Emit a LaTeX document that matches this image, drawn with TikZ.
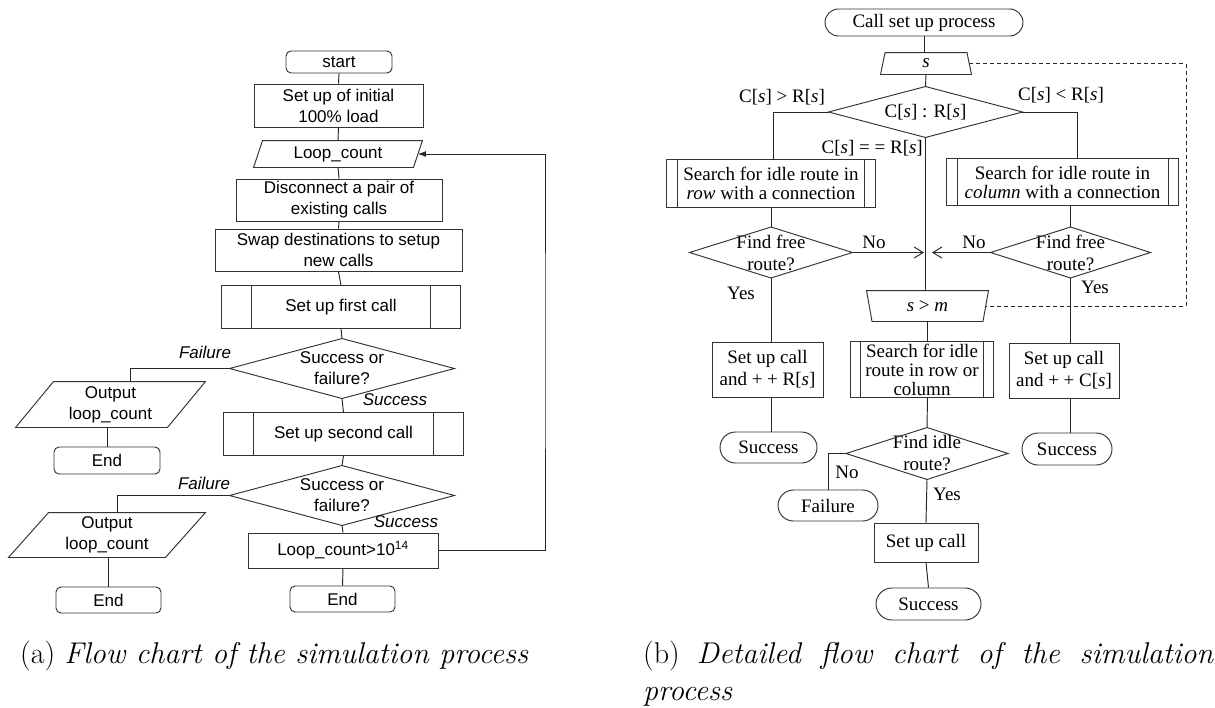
\documentclass[tikz,border=0pt]{standalone}
\usepackage{fontspec}
\newfontfamily\sansf{Liberation Sans}
\newfontfamily\serf{Liberation Serif}
\usetikzlibrary{arrows.meta}

% outlines drawn from the anchors of an undrawn rectangular node
\newcommand\pgramshape[2]{\draw[shp] ([xshift=#2]#1.north west) -- (#1.north east) -- ([xshift=-#2]#1.south east) -- (#1.south west) -- cycle;}
\newcommand\trapwide[2]{\draw[shp] ([xshift=#2]#1.north west) -- ([xshift=-#2]#1.north east) -- (#1.south east) -- (#1.south west) -- cycle;}
\newcommand\trapnarrow[2]{\draw[shp] (#1.north west) -- (#1.north east) -- ([xshift=-#2]#1.south east) -- ([xshift=#2]#1.south west) -- cycle;}
\newcommand\diam[1]{\draw[shp] (#1.north) -- (#1.east) -- (#1.south) -- (#1.west) -- cycle;}
\newcommand\subproc[2]{\draw[shp] (#1.north west) rectangle (#1.south east);
  \draw[shp] ([xshift=#2]#1.north west) -- ([xshift=#2]#1.south west)
             ([xshift=-#2]#1.north east) -- ([xshift=-#2]#1.south east);}

\tikzset{
  shp/.style={line width=0.95pt, draw=black!80},
  ln/.style={line width=0.95pt, draw=black!85},
  sbox/.style={inner sep=0pt, align=center, line width=0.95pt, draw=none,
    font=\sansf\fontsize{17}{21}\selectfont},
  sdraw/.style={sbox, draw=black!80},
  slab/.style={inner sep=0pt, font=\sansf\itshape\fontsize{17}{21}\selectfont},
  rbox/.style={inner sep=0pt, align=center, line width=0.95pt, draw=none,
    font=\serf\fontsize{19}{22}\selectfont},
  rdraw/.style={rbox, draw=black!80},
  rtight/.style={rbox, font=\serf\fontsize{19}{19}\selectfont},
  rlab/.style={inner sep=0pt, font=\serf\fontsize{19}{22}\selectfont},
  barb/.style={-{Straight Barb[length=9pt,width=11pt]}},
  captxt/.style={inner sep=0pt, anchor=base west, font=\fontsize{30}{37}\selectfont}
}

\begin{document}
\begin{tikzpicture}[x=1pt,y=-1pt]
\fill[white] (0,0) rectangle (1215,707);
\useasboundingbox (0,0) rectangle (1215,707);

% ---------------- overall simulation loop ----------------
\node[sdraw, rounded corners=5pt, minimum width=106pt, minimum height=22pt] (start) at (339,62) {start};
\node[sdraw, minimum width=169pt, minimum height=43pt] (init) at (338.5,105.5) {Set up of initial\\100\% load};
\node[sbox, minimum width=168pt, minimum height=26pt] (lc) at (338,154) {Loop\_count};
\pgramshape{lc}{9pt}
\node[sdraw, minimum width=206pt, minimum height=42pt] (disc) at (339,200) {Disconnect a pair of\\existing calls};
\node[sdraw, minimum width=247pt, minimum height=42pt] (swap) at (338.5,250) {Swap destinations to setup\\new calls};
\node[sbox, minimum width=238pt, minimum height=42pt] (first) at (341,307) {Set up first call};
\subproc{first}{30pt}
\node[sbox, minimum width=224pt, minimum height=59pt] (d1) at (342,368.5) {Success or\\failure?};
\diam{d1}
\node[sbox, minimum width=189pt, minimum height=45pt] (out1) at (110.5,404.5) {Output\\loop\_count};
\pgramshape{out1}{38pt}
\node[sdraw, rounded corners=5pt, minimum width=106pt, minimum height=27pt] (end1) at (107,460.5) {End};
\node[sbox, minimum width=239pt, minimum height=42pt] (second) at (343.5,434) {Set up second call};
\subproc{second}{30pt}
\node[sbox, minimum width=224pt, minimum height=59pt] (d2) at (342,495.5) {Success or\\failure?};
\diam{d2}
\node[sbox, minimum width=196pt, minimum height=44pt] (out2) at (107,535) {Output\\loop\_count};
\pgramshape{out2}{40pt}
\node[sdraw, rounded corners=5pt, minimum width=105pt, minimum height=26pt] (end2) at (108.5,600) {End};
\node[sdraw, minimum width=190pt, minimum height=35pt] (loop) at (343,550.5) {Loop\_count>10\textsuperscript{14}};
\node[sdraw, rounded corners=5pt, minimum width=105pt, minimum height=26pt] (end3) at (342.5,599) {End};
\coordinate (back) at (545,350);

\draw[ln] (start.south) -- (init.north);
\draw[ln] (init.south) -- (lc.north);
\draw[ln] (lc.south) -- (disc.north);
\draw[ln] (disc.south) -- (swap.north);
\draw[ln] (swap.south) -- (first.north);
\draw[ln] (first.south) -- (d1.north);
\draw[ln] (d1.south) -- (second.north);
\draw[ln] (second.south) -- (d2.north);
\draw[ln] (d2.south) -- (loop.north);
\draw[ln] (loop.south) -- (end3.north);
\draw[ln] (d1.west) -| ([xshift=19.5pt]out1.north);
\draw[ln] (end1.north |- out1.south) -- (end1.north);
\draw[ln] (d2.west) -| ([xshift=10pt]out2.north);
\draw[ln] (end2.north |- out2.south) -- (end2.north);
\draw[ln, -{Latex[length=8pt,width=6pt]}] (loop.east) -| (back) |- ([xshift=-4.5pt]lc.east);

\node[slab] at (205,352) {Failure};
\node[slab] at (395,400) {Success};
\node[slab] at (204,483) {Failure};
\node[slab] at (406,522) {Success};

% ---------------- detailed call set-up ----------------
\node[rdraw, rounded corners=13.5pt, minimum width=198pt, minimum height=27pt] (call) at (924,22.5) {Call set up process};
\node[rbox, minimum width=90pt, minimum height=21pt] (s) at (926,63.5) {\textit{s}};
\trapwide{s}{4.5pt}
\node[rbox, minimum width=193pt, minimum height=50pt] (dc) at (925.5,112) {C[\textit{s}] : R[\textit{s}]};
\diam{dc}
\node[rtight, minimum width=208pt, minimum height=47pt] (rowb) at (771,183.5) {Search for idle route in\\\textit{row} with a connection};
\subproc{rowb}{11pt}
\node[rtight, minimum width=231pt, minimum height=46pt] (colb) at (1062.5,182) {Search for idle route in\\\textit{column} with a connection};
\subproc{colb}{10.5pt}
\node[rbox, minimum width=162pt, minimum height=50pt] (dl) at (771,252.5) {Find free\\route?};
\diam{dl}
\node[rbox, minimum width=159pt, minimum height=50pt] (dr) at (1070.5,252.5) {Find free\\route?};
\diam{dr}
\node[rbox, minimum width=121pt, minimum height=30pt] (smgt) at (927.5,306) {\textit{s} > \textit{m}};
\trapnarrow{smgt}{5.5pt}
\node[rdraw, minimum width=111pt, minimum height=55pt] (setr) at (767.5,369.5) {Set up call\\and + + R[\textit{s}]};
\node[rtight, minimum width=142pt, minimum height=55pt] (srch) at (922,369.5) {Search for idle\\route in row or\\column};
\subproc{srch}{10pt}
\node[rdraw, minimum width=110pt, minimum height=55pt] (setc) at (1064,370.5) {Set up call\\and + + C[\textit{s}]};
\node[rdraw, rounded corners=15.5pt, minimum width=97pt, minimum height=31pt] (sucl) at (768.5,447.5) {Success};
\node[rdraw, rounded corners=16pt, minimum width=90pt, minimum height=32pt] (sucr) at (1067,449) {Success};
\node[rbox, minimum width=161pt, minimum height=51pt] (di) at (927,453.5) {Find idle\\route?};
\diam{di}
\node[rdraw, rounded corners=15.5pt, minimum width=100pt, minimum height=31pt] (fail) at (828,505.5) {Failure};
\node[rdraw, minimum width=104pt, minimum height=39pt] (setup) at (926,542.5) {Set up call};
\node[rdraw, rounded corners=16pt, minimum width=105pt, minimum height=32pt] (sucb) at (928.5,604) {Success};

\coordinate (jl) at (924,252.5);
\coordinate (jr) at (932,252.5);
\coordinate (dashx) at (1186,200);

\draw[ln] (call.south) -- (call.south |- s.north);
\draw[ln] (s.south) -- (dc.north);
\draw[ln] (dc.west) -| ([xshift=2pt]rowb.north);
\draw[ln] (dc.east) -| ([xshift=14.5pt]colb.north);
\draw[ln] (dc.south) -- (dc.south |- smgt.north);
\draw[ln] (rowb.south) -- (dl.north);
\draw[ln] (dr.north |- colb.south) -- (dr.north);
\draw[ln, barb] (dl.east) -- (jl);
\draw[ln, barb] (dr.west) -- (jr);
\draw[ln] (dl.south) -- (dl.south |- setr.north);
\draw[ln] (dl.south |- setr.south) -- (dl.south |- sucl.north);
\draw[ln] (dr.south) -- (dr.south |- setc.north);
\draw[ln] (dr.south |- setc.south) -- (dr.south |- sucr.north);
\draw[ln] (smgt.south) -- (smgt.south |- srch.north);
\draw[ln] (smgt.south |- srch.south) -- (di.north);
\draw[ln] (di.west) -| (fail.north);
\draw[ln] (di.south) -- (setup.north);
\draw[ln] (setup.south) -- (sucb.north);
\draw[ln, dashed, dash pattern=on 4pt off 3pt] ([xshift=-2.25pt]s.east) -- (s.east -| dashx) |- ([xshift=-2.75pt]smgt.east);

\node[rlab] at (782,97) {C[\textit{s}] > R[\textit{s}]};
\node[rlab, anchor=east] at (923,148) {C[\textit{s}] = = R[\textit{s}]};
\node[rlab] at (1061,95) {C[\textit{s}] < R[\textit{s}]};
\node[rlab] at (874,242) {No};
\node[rlab] at (974,242) {No};
\node[rlab] at (741,293) {Yes};
\node[rlab] at (1095,287) {Yes};
\node[rlab] at (847,472) {No};
\node[rlab] at (947,494) {Yes};

% ---------------- sub-captions ----------------
\node[captxt] (capa) at (20,663) {(a) \textit{Flow chart of the simulation process}};
\node[captxt] (capb) at (643,663) {\parbox[t]{570pt}{\tolerance=10000 \hyphenpenalty=10000 (b) \textit{Detailed flow chart of the simulation process}}};
\end{tikzpicture}
\end{document}
